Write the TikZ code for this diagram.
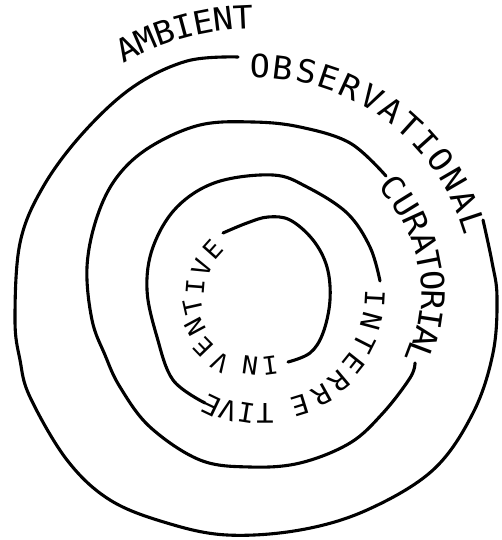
\documentclass[tikz,border=0pt]{standalone}
\usepackage{fontspec}
\setmonofont[FakeStretch=1.05]{DejaVu Sans Mono}
\usetikzlibrary{calc}

\begin{document}
\begin{tikzpicture}[x=1pt, y=-1pt,
    ring/.style={line width=3.1pt, line cap=round, line join=round},
    bigltr/.style={font=\ttfamily\fontsize{32}{32}\selectfont, inner sep=0pt},
    midltr/.style={font=\ttfamily\fontsize{27}{27}\selectfont, inner sep=0pt},
    smlltr/.style={font=\ttfamily\fontsize{25}{25}\selectfont, inner sep=0pt}
]
\fill[white] (0,0) rectangle (501,540);

% centres of the four turns
\coordinate (c1) at (256,295);
\coordinate (c2) at (261,294);
\coordinate (c3) at (265,293);
\coordinate (c4) at (260,292);

% the turns, outside in
\draw[ring] plot[smooth, tension=0.6] coordinates {(238,57) (187,61) (133,87) (83,133) (43,187) (20,243) (15,320) (20,360) (30,397) (67,460) (110,500) (167,523) (227,535) (300,530) (367,510) (433,470) (473,413) (493,353) (497,297) (492,262) (483,220)};
\draw[ring] plot[smooth, tension=0.6] coordinates {(386,176) (350,143) (300,127) (253,122) (200,125) (150,147) (117,177) (97,217) (87,267) (92,320) (105,355) (120,387) (150,427) (200,460) (250,467) (300,463) (350,443) (383,413) (410,378) (415,363)};
\draw[ring] plot[smooth, tension=0.6] coordinates {(380,281) (370,247) (347,213) (307,187) (273,175) (217,182) (177,207) (153,247) (147,290) (157,337) (173,380) (205,403)};
\draw[ring] plot[smooth, tension=0.6] coordinates {(223,233) (247,223) (268,217) (290,220) (313,240) (327,267) (330,300) (323,333) (310,353) (288,362)};

% words
\foreach \ch [count=\i] in {A,M,B,I,E,N,T}
  \node[bigltr, rotate={27.6-4.15*(\i-1)}] (amb\i) at ($(c1)+({117.6-4.15*(\i-1)}:278pt)$) {\ch};
\foreach \ch [count=\i] in {O,B,S,E,R,V,A,T,I,O,N,A,L}
  \node[bigltr, rotate={-1-5.88*(\i-1)}] (obs\i) at ($(c1)+({89-5.88*(\i-1)}:229pt)$) {\ch};
\foreach \ang/\rad/\ch [count=\i] in {39/170/C, 31.7/170/U, 24.5/171/R, 17.5/172/A, 11/171/T, 4.5/172/O, -2/172/R, -8.5/171/I, -14.5/171/A, -20.6/169/L}
  \node[bigltr, rotate=\ang-90] (cur\i) at ($(c2)+(\ang:\rad pt)$) {\ch};
\foreach \ang/\rad/\ch [count=\i] in {-3/110/I, -15/110/N, -27/111/T, -38.5/113/E, -50/115/R, -61/117/R, -72.8/118/E, -90/120/T, -99/121/I, -107.5/123/V, -115.5/125/E}
  \node[midltr, rotate=\ang-90] (itp\i) at ($(c3)+(\ang:\rad pt)$) {\ch};
\foreach \ang/\rad/\ch [count=\i] in {-82.2/74/I, -97.8/74/N, -119.7/81/V, -136/79/E, -151.7/74/N, -167.4/69/T, 175.6/65/I, 157.5/63/V, 138.2/63/E}
  \node[smlltr, rotate=\ang-90] (inv\i) at ($(c4)+(\ang:\rad pt)$) {\ch};
\end{tikzpicture}
\end{document}
